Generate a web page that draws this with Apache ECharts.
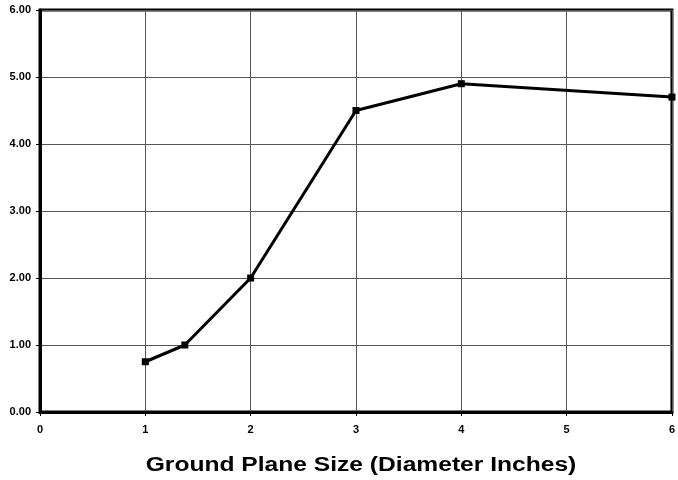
<!DOCTYPE html>
<html><head><meta charset="utf-8">
<script src="https://cdn.jsdelivr.net/npm/echarts@6/dist/echarts.min.js"></script>
<style>html,body{margin:0;padding:0;background:#fff}#c{width:678px;height:480px}</style>
</head><body><div id="c"></div>
<script>
const xValues = [1, 1.375, 2, 3, 4, 6];
const yValues = [0.75, 1.0, 2.0, 4.5, 4.9, 4.7];
const xTitle = 'Ground Plane Size (Diameter Inches)';

const chart = echarts.init(document.getElementById('c'));
chart.setOption({
  animation: false,
  backgroundColor: '#fff',
  grid: { left: 40, right: 2, top: 10, bottom: 68, show: true, borderColor: '#000', borderWidth: 3, backgroundColor: 'transparent' },
  graphic: [{
    type: 'text', x: 361, y: 465, scaleX: 1.23, scaleY: 1,
    style: { text: xTitle, fontFamily: 'Liberation Sans, Arial', fontWeight: 'bold', fontSize: 20, fill: '#000', align: 'center', verticalAlign: 'middle' }
  }],
  xAxis: {
    type: 'value', min: 0, max: 6, interval: 1,
    axisLine: { show: true, lineStyle: { color: '#000', width: 3 } },
    axisTick: { show: true, inside: false, length: 4, lineStyle: { color: '#000', width: 1 } },
    axisLabel: { fontFamily: 'Liberation Sans, Arial', fontWeight: 'bold', fontSize: 11, color: '#000', margin: 12, formatter: v => String(v) },
    splitLine: { show: true, lineStyle: { color: '#555', width: 1 } }
  },
  yAxis: {
    type: 'value', min: 0, max: 6, interval: 1,
    axisLine: { show: true, lineStyle: { color: '#000', width: 3 } },
    axisTick: { show: true, inside: false, length: 4, lineStyle: { color: '#000', width: 1 } },
    axisLabel: { fontFamily: 'Liberation Sans, Arial', fontWeight: 'bold', fontSize: 11, color: '#000', margin: 9, formatter: v => v.toFixed(2) },
    splitLine: { show: true, lineStyle: { color: '#555', width: 1 } }
  },
  series: [{
    type: 'line',
    data: xValues.map((x, i) => [x, yValues[i]]),
    lineStyle: { color: '#000', width: 3 },
    itemStyle: { color: '#000' },
    symbol: 'rect', symbolSize: 7, showSymbol: true,
    clip: false
  }]
});
</script></body></html>
